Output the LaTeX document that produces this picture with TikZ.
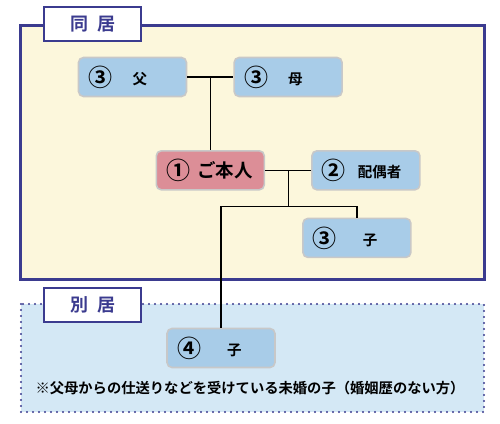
\documentclass[tikz,border=0pt]{standalone}
\usepackage{fontspec}
\setmainfont{Noto Sans CJK JP}[BoldFont={Noto Sans CJK JP Bold}]
\usepackage{xcolor}
\usepackage{tikz}
\usetikzlibrary{positioning, calc}
\definecolor{frameblue}{HTML}{3B3B8F}
\definecolor{boxyellow}{HTML}{FCF7DC}
\definecolor{boxblue}{HTML}{D4E8F5}
\definecolor{nodeblue}{HTML}{A8CCE8}
\definecolor{nodepink}{HTML}{DC8E97}
\definecolor{nodeedge}{HTML}{C8C8C8}
\newcommand{\cnum}[1]{\raisebox{-2pt}{\fontsize{24}{24}\selectfont #1}}
\tikzset{
  person/.style={rectangle, rounded corners=5pt, draw=nodeedge,
                 line width=1.6pt, fill=nodeblue, text width=88pt,
                 inner xsep=10pt, align=left, minimum height=39pt,
                 font=\bfseries\fontsize{14.5}{16}\selectfont},
  personpink/.style={person, fill=nodepink,
                 font=\bfseries\fontsize{18.5}{20}\selectfont},
  tag/.style={rectangle, draw=frameblue, line width=2pt, fill=white,
              minimum width=97pt, minimum height=34pt,
              font=\bfseries\fontsize{18}{18}\selectfont, text=frameblue},
  link/.style={draw=black, line width=1.2pt},
}

\begin{document}
\begin{tikzpicture}[x=1pt, y=-1pt, node distance=46pt]
  \useasboundingbox (0,0) rectangle (500,423);

  % groups
  \draw[frameblue, line width=3pt, fill=boxyellow] (20.5,25.5) rectangle (484,279);
  \draw[frameblue, line width=2.2pt, fill=boxblue, line cap=round,
        dash pattern=on 0pt off 6pt] (21,304) rectangle (484,412);
  \node[tag] (same) at (92.5,24) {同\hspace{9pt}居};
  \node[tag] (apart) at (92.5,304.5) {別\hspace{9pt}居};

  % family
  \node[person] (father) at (132.5,77) {\cnum{③}\hspace{20pt}父};
  \node[person, right=of father] (mother) {\cnum{③}\hspace{20pt}母};
  \coordinate (pj) at ($(father.east)!0.5!(mother.west)$);
  \node[personpink, below=73pt of pj] (self) {\cnum{①}\hspace{7pt}ご本人};
  \node[person, right=of self] (spouse) {\cnum{②}\hspace{12pt}配偶者};
  \coordinate (sj) at ($(self.east)!0.5!(spouse.west)$);
  \coordinate (bj) at ([yshift=-36pt]sj);
  \node[person, below=27pt of spouse, xshift=-9pt] (child) {\cnum{③}\hspace{26pt}子};
  \node[person] (childaway) at (221,348) {\cnum{④}\hspace{26pt}子};

  \node[font=\bfseries\fontsize{14.3}{16}\selectfont] (note) at (250,388)
    {※父母からの仕送りなどを受けている未婚の子（婚姻歴のない方）};

  \draw[link] (father) -- (mother);
  \draw[link] (pj) -- (self);
  \draw[link] (self) -- (spouse);
  \draw[link] (sj) -- (bj);
  \draw[link] (childaway.north) |- (bj) -| (child.north);
\end{tikzpicture}
\end{document}
